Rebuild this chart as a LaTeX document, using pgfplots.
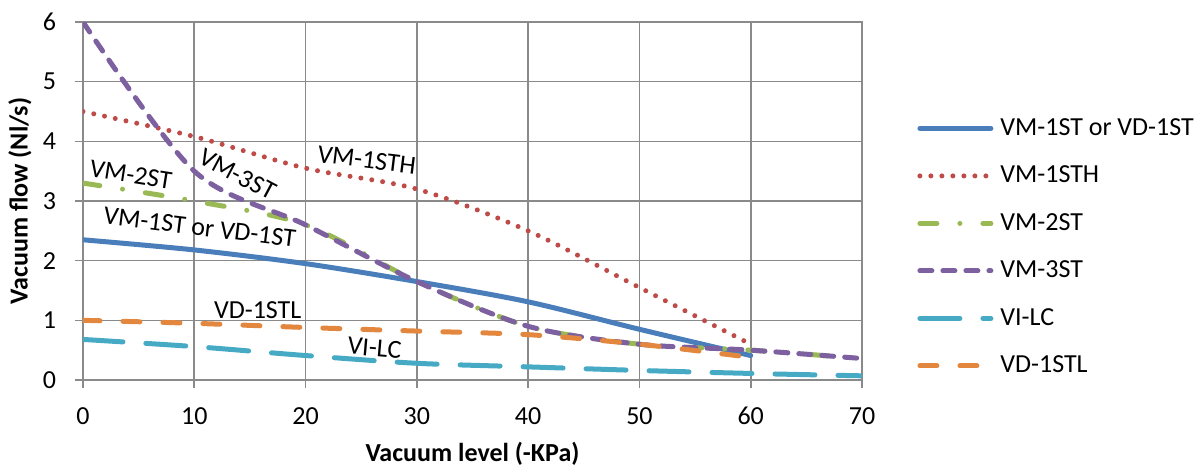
\documentclass[border=0pt]{standalone}
\usepackage{fontspec}
\setmainfont{Carlito}
\usepackage{pgfplots}
\pgfplotsset{compat=1.18}

\definecolor{cblue}{HTML}{4A7EBB}
\definecolor{cred}{HTML}{BE4B48}
\definecolor{cgreen}{HTML}{98B954}
\definecolor{cpurple}{HTML}{7D60A0}
\definecolor{cteal}{HTML}{46AAC5}
\definecolor{corange}{HTML}{E4873E}
\definecolor{cgrid}{HTML}{8A8A8A}

\begin{document}
\begin{tikzpicture}
\path[use as bounding box] (-41.5pt,-43pt) rectangle (556pt,190pt);
\begin{axis}[
    at={(0,0)}, anchor=south west,
    scale only axis,
    width=389.5pt, height=179pt,
    xmin=0, xmax=70, ymin=0, ymax=6,
    xtick={0,10,...,70}, ytick={0,1,...,6},
    grid=major,
    major grid style={cgrid, line width=0.8pt},
    axis line style={cgrid, line width=0.8pt},
    tick style={cgrid, line width=0.8pt},
    tick align=outside, major tick length=4pt,
    xtick pos=bottom, ytick pos=left,
    /pgf/number format/assume math mode=true,
    ticklabel style={font=\fontsize{13}{15}\selectfont, black},
    xticklabel style={anchor=center, yshift=-14pt},
    yticklabel style={anchor=east, xshift=-6pt},
    xlabel={\textbf{Vacuum level (-KPa)}},
    ylabel={\textbf{Vacuum flow (Nl/s)}},
    label style={font=\fontsize{13}{15}\selectfont},
    xlabel style={at={(axis description cs:0.5,-0.206)}, anchor=center},
    ylabel style={at={(axis description cs:-0.0809,0.5)}, anchor=center, rotate=0},
    legend style={draw=none, fill=none, inner sep=0pt,
        at={(1.0706,0.7374)}, anchor=north west,
        font=\fontsize{13}{15}\selectfont,
        nodes={inner sep=0pt, text height=9.5pt, text depth=2.5pt},
        row sep=11.75pt, column sep=3.5pt},
    legend cell align=left,
    legend image code/.code={\draw[#1] (0pt,0pt) -- (35.5pt,0pt);},
    every axis plot/.append style={line width=2.5pt, smooth, tension=0.5},
]
% VM-1ST or VD-1ST
\addplot[cblue, line cap=round] coordinates {
    (0,2.35) (10,2.18) (20,1.95) (30,1.65) (40,1.31) (50,0.85) (60,0.41)
};
\addlegendentry{VM-1ST or VD-1ST}
% VM-1STH
\addplot[cred, line cap=round, dash pattern=on 0pt off 5.5pt] coordinates {
    (0,4.5) (10,4.08) (20,3.55) (30,3.2) (40,2.5) (50,1.55) (60,0.6)
};
\addlegendentry{VM-1STH}
% VM-2ST
\addplot[cgreen, line cap=round, dash pattern=on 8.5pt off 11.5pt on 0pt off 11.5pt] coordinates {
    (0,3.3) (10,3.0) (20,2.6) (30,1.65) (40,0.9) (50,0.6) (60,0.5) (70,0.36)
};
\addlegendentry{VM-2ST}
% VM-3ST
\addplot[cpurple, line cap=round, dash pattern=on 6pt off 5.5pt] coordinates {
    (0,6.0) (10,3.5) (20,2.6) (30,1.65) (40,0.9) (50,0.6) (60,0.5) (70,0.36)
};
\addlegendentry{VM-3ST}
% VI-LC
\addplot[cteal, line cap=round, dash pattern=on 20pt off 11.5pt] coordinates {
    (0,0.68) (10,0.56) (20,0.41) (30,0.28) (40,0.22) (50,0.16) (60,0.11) (70,0.07)
};
\addlegendentry{VI-LC}
% VD-1STL
\addplot[corange, line cap=round, dash pattern=on 8.5pt off 11.5pt] coordinates {
    (0,1.0) (10,0.95) (20,0.88) (30,0.82) (40,0.76) (50,0.6) (60,0.38)
};
\addlegendentry{VD-1STL}

\node[font=\fontsize{13}{15}\selectfont, rotate=-7] at (axis cs:25.5,3.69) {VM-1STH};
\node[font=\fontsize{13}{15}\selectfont, rotate=-28] at (axis cs:13.9,3.45) {VM-3ST};
\node[font=\fontsize{13}{15}\selectfont, rotate=-9] at (axis cs:4.3,3.44) {VM-2ST};
\node[font=\fontsize{13}{15}\selectfont, rotate=-7] at (axis cs:10.5,2.56) {VM-1ST or VD-1ST};
\node[font=\fontsize{13}{15}\selectfont] at (axis cs:15.7,1.17) {VD-1STL};
\node[font=\fontsize{13}{15}\selectfont, rotate=-5] at (axis cs:26.2,0.54) {VI-LC};
\end{axis}
\end{tikzpicture}
\end{document}
